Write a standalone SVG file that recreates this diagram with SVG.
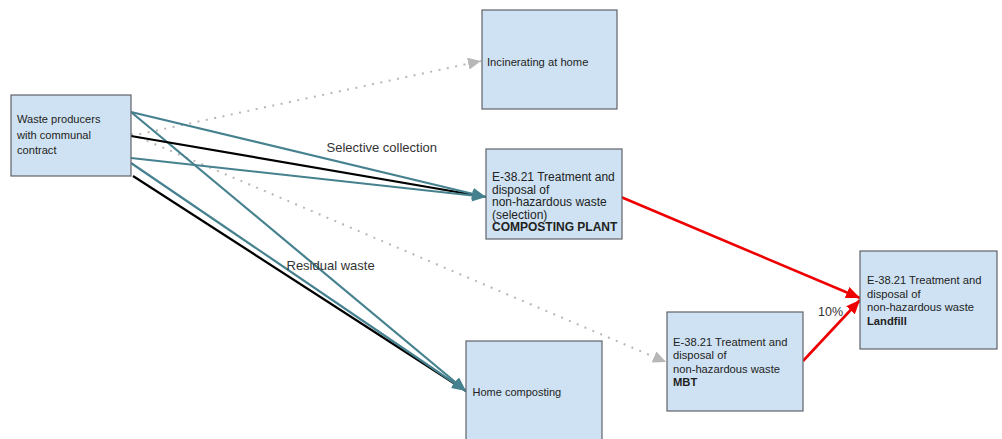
<svg xmlns="http://www.w3.org/2000/svg" width="1002" height="439" viewBox="0 0 1002 439">
  <style>
    .box { fill: #cfe2f3; stroke: #5f6368; stroke-width: 1.2; }
    .t { font-family: "Liberation Sans", Arial, sans-serif; fill: #222; }
    .b { font-weight: bold; }
    .lbl { font-family: "Liberation Sans", Arial, sans-serif; fill: #333; font-size: 13px; }
    .teal { stroke: #45818e; stroke-width: 2.2; fill: none; }
    .black { stroke: #000; stroke-width: 2.2; fill: none; }
    .red { stroke: #ee0000; stroke-width: 2.6; fill: none; }
    .dot { stroke: #b7b7b7; stroke-width: 2; fill: none; stroke-dasharray: 2 6.5; }
  </style>
  <defs>
    <marker id="ah-teal" markerUnits="userSpaceOnUse" markerWidth="16" markerHeight="14" refX="14" refY="6" orient="auto">
      <path d="M0,0 L14,6 L0,12 z" fill="#45818e"/>
    </marker>
    <marker id="ah-red" markerUnits="userSpaceOnUse" markerWidth="16" markerHeight="14" refX="14" refY="6" orient="auto">
      <path d="M0,0 L14,6 L0,12 z" fill="#ee0000"/>
    </marker>
    <marker id="ah-gray" markerUnits="userSpaceOnUse" markerWidth="16" markerHeight="14" refX="13" refY="6" orient="auto">
      <path d="M0,0 L13,6 L0,12 z" fill="#b7b7b7"/>
    </marker>
  </defs>
  <rect width="1002" height="439" fill="#fff"/>

  <g id="connectors">
    <!-- dotted flows -->
    <path class="dot" d="M131,136 L481,61" marker-end="url(#ah-gray)"/>
    <path class="dot" d="M131,134 L666,362" marker-end="url(#ah-gray)"/>
    <!-- residual waste to home composting -->
    <path class="black" d="M133,176 L466,391"/>
    <path class="teal" d="M131,163 L466,391" marker-end="url(#ah-teal)"/>
    <path class="teal" d="M131,112 L466,391" marker-end="url(#ah-teal)"/>
    <!-- selective collection to composting plant -->
    <path class="black" d="M131,136 L486,197"/>
    <path class="teal" d="M131,112 L486,197" marker-end="url(#ah-teal)"/>
    <path class="teal" d="M131,158 L486,197" marker-end="url(#ah-teal)"/>
    <!-- to landfill -->
    <path class="red" d="M621,197 L860,298" marker-end="url(#ah-red)"/>
    <path class="red" d="M803,361 L860,300" marker-end="url(#ah-red)"/>
    <text class="lbl" x="326.5" y="151.5">Selective collection</text>
    <text class="lbl" x="286.5" y="269.5">Residual waste</text>
    <text class="lbl" x="818" y="316" style="font-size:12.5px">10%</text>
  </g>

  <g id="producers">
    <rect class="box" x="11" y="95" width="120" height="81"/>
    <text class="t" font-size="11.1" x="17" y="123.3">Waste producers</text>
    <text class="t" font-size="11.1" x="17" y="138.5">with communal</text>
    <text class="t" font-size="11.1" x="17" y="154">contract</text>
  </g>

  <g id="incinerating">
    <rect class="box" x="482" y="10" width="135" height="99"/>
    <text class="t" font-size="11.2" x="487" y="65.5">Incinerating at home</text>
  </g>

  <g id="composting-plant">
    <rect class="box" x="486" y="149" width="136" height="90"/>
    <text class="t" font-size="12" x="492" y="181">E-38.21 Treatment and</text>
    <text class="t" font-size="12" x="492" y="193.5">disposal of</text>
    <text class="t" font-size="12" x="492" y="206">non-hazardous waste</text>
    <text class="t" font-size="12" x="492" y="218.5">(selection)</text>
    <text class="t b" font-size="12" x="492" y="231">COMPOSTING PLANT</text>
  </g>

  <g id="home-composting">
    <rect class="box" x="466" y="341" width="136" height="104"/>
    <text class="t" font-size="11" x="472.5" y="395.5">Home composting</text>
  </g>

  <g id="mbt">
    <rect class="box" x="667" y="312" width="136" height="99"/>
    <text class="t" font-size="11.2" x="673" y="346">E-38.21 Treatment and</text>
    <text class="t" font-size="11.2" x="673" y="359.3">disposal of</text>
    <text class="t" font-size="11.2" x="673" y="372.6">non-hazardous waste</text>
    <text class="t b" font-size="11.2" x="673" y="386">MBT</text>
  </g>

  <g id="landfill">
    <rect class="box" x="860" y="251" width="137" height="98"/>
    <text class="t" font-size="11.2" x="867" y="284">E-38.21 Treatment and</text>
    <text class="t" font-size="11.2" x="867" y="297.5">disposal of</text>
    <text class="t" font-size="11.2" x="867" y="311">non-hazardous waste</text>
    <text class="t b" font-size="11.2" x="867" y="324.5">Landfill</text>
  </g>
</svg>
